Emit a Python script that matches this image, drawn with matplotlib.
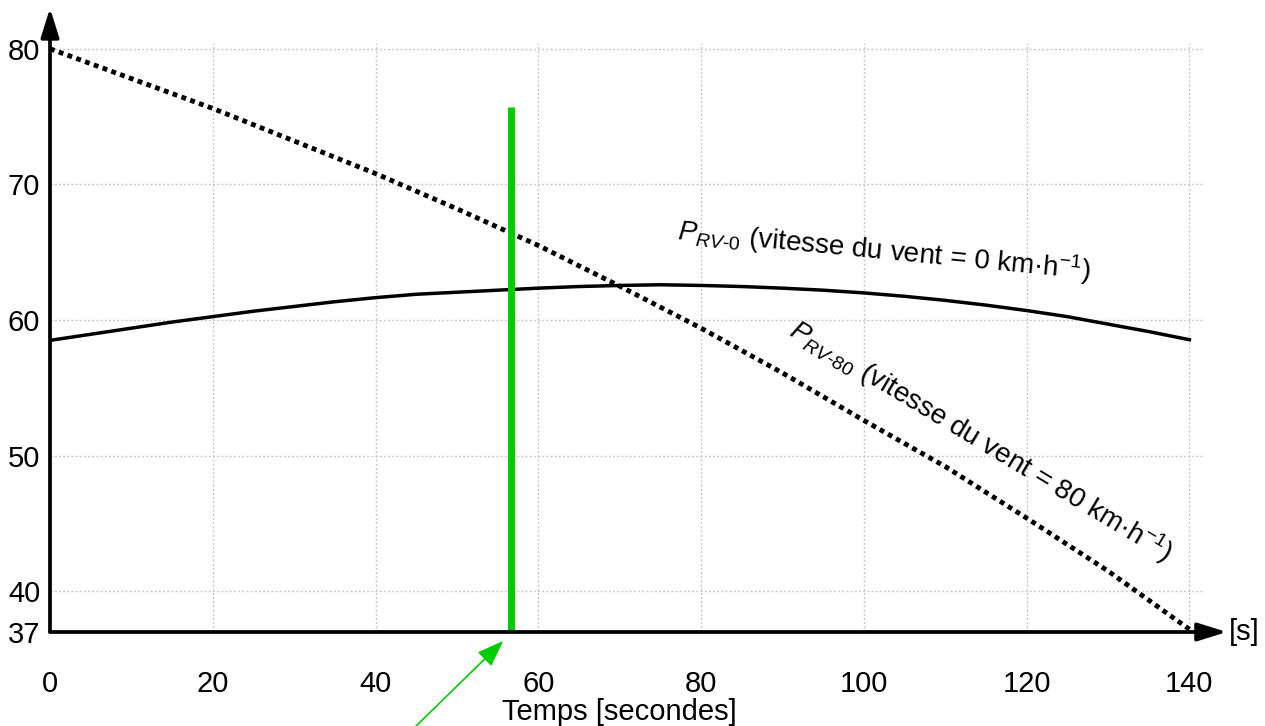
import matplotlib
matplotlib.use("Agg")
import matplotlib.pyplot as plt

plt.rcParams['font.family'] = ['Liberation Sans', 'DejaVu Sans']
plt.rcParams['mathtext.fontset'] = 'custom'
plt.rcParams['mathtext.rm'] = 'Liberation Sans'
plt.rcParams['mathtext.it'] = 'Liberation Sans:italic'
plt.rcParams['mathtext.bf'] = 'Liberation Sans:bold'

# données
temps = [0, 5, 10, 15, 20, 25, 30, 35, 40, 45, 50, 55, 60, 65, 70, 75, 80, 85,
         90, 95, 100, 105, 110, 115, 120, 125, 130, 135, 140]
p_rv0 = [58.5, 58.95, 59.4, 59.85, 60.25, 60.65, 61.0, 61.35, 61.65, 61.9,
         62.05, 62.2, 62.35, 62.47, 62.55, 62.6, 62.55, 62.47, 62.35, 62.2,
         62.0, 61.75, 61.45, 61.1, 60.7, 60.25, 59.7, 59.15, 58.55]
temps80 = [0, 10, 20, 30, 40, 50, 60, 70, 80, 90, 100, 110, 120, 130, 140]
p_rv80 = [80.0, 77.8, 75.6, 73.2, 70.8, 68.2, 65.5, 62.5, 59.4, 56.1,
          52.6, 49.2, 45.4, 41.5, 37.2]
t_marque = 56.6
p_marque = 75.7
xticks = [0, 20, 40, 60, 80, 100, 120, 140]
yticks = [37, 40, 50, 60, 70, 80]
grille_y = [40, 50, 60, 70, 80]

fig = plt.figure(figsize=(12.65, 7.26), dpi=100)
ax = fig.add_axes([50 / 1265, (726 - 632) / 726, 1176 / 1265, 628 / 726])
ax.set_xlim(0, 144.5)
ax.set_ylim(37, 83.3)
for s in ax.spines.values():
    s.set_visible(False)

# grille pointillée
gris = '#c8c8c8'
ax.vlines(xticks[1:], 37, 80.4, colors=gris, linestyles=(0, (1.5, 1.5)), lw=1, zorder=1)
ax.hlines(grille_y, 0, 141.5, colors=gris, linestyles=(0, (1.5, 1.5)), lw=1, zorder=1)

# axes avec flèches
fl = dict(arrowstyle='-|>,head_length=0.8,head_width=0.25', lw=2.7, color='k',
          mutation_scale=22, shrinkA=0, shrinkB=0)
ax.annotate('', xy=(0, 83.0), xytext=(0, 37), arrowprops=fl, annotation_clip=False, zorder=5)
ax.annotate('', xy=(144.6, 37), xytext=(0, 37), arrowprops=fl, annotation_clip=False, zorder=5)

ax.set_xticks(xticks)
ax.set_yticks(yticks)
ax.tick_params(axis='both', length=0, labelsize=21)
ax.tick_params(axis='x', pad=27)
ax.tick_params(axis='y', pad=7)

# courbes
ax.plot(temps, p_rv0, color='k', lw=2.5, zorder=3)
l80, = ax.plot(temps80, p_rv80, color='k', lw=3.5, zorder=3)
l80.set_dashes((1.0, 0.92))

ax.plot([t_marque, t_marque], [37, p_marque], color='#00cc00', lw=5,
        solid_capstyle='butt', zorder=4)
ax.annotate('', xy=(55.7, 36.35), xycoords='data', xytext=(412, -4),
            textcoords='figure pixels',
            arrowprops=dict(arrowstyle='-|>,head_length=1.1,head_width=0.4',
                            color='#00cc00', lw=1.2, mutation_scale=15,
                            shrinkA=0, shrinkB=0),
            annotation_clip=False)

ax.text(77.0, 65.9, r"$P_{RV\text{-}0}$ (vitesse du vent = 0 km·$\mathregular{h^{-1}}$)",
        fontsize=20, rotation=-5.5, rotation_mode='anchor', ha='left', va='baseline')
ax.text(90.6, 58.9, r"$P_{RV\text{-}80}$ (vitesse du vent = 80 km·$\mathregular{h^{-1}}$)",
        fontsize=20, rotation=-31, rotation_mode='anchor', ha='left', va='baseline')

ax.text(144.8, 37, '[s]', fontsize=21, ha='left', va='center')
ax.text(70, -0.127, 'Temps [secondes]', fontsize=21, ha='center', va='center',
        transform=ax.get_xaxis_transform())

fig.savefig('out.png', dpi=100)
